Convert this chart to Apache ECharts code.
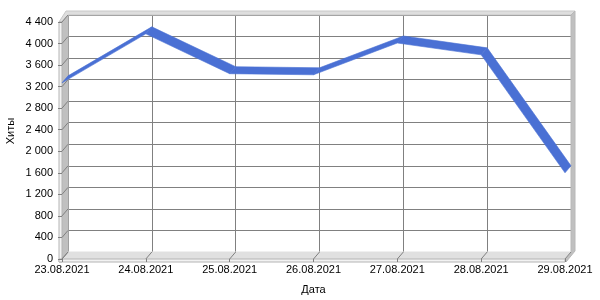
<!DOCTYPE html>
<html>
<head>
<meta charset="utf-8">
<script src="https://cdn.jsdelivr.net/npm/echarts@6/dist/echarts.min.js"></script>
<style>html,body{margin:0;padding:0;background:#fff}#c{width:600px;height:300px}</style>
</head>
<body>
<div id="c"></div>
<script>
const categories = ['23.08.2021','24.08.2021','25.08.2021','26.08.2021','27.08.2021','28.08.2021','29.08.2021'];
const hits = [3270, 4180, 3440, 3420, 4010, 3790, 1600];
const yMin = 0, yMax = 4400, yStep = 400;
const xName = 'Дата';
const yName = 'Хиты';

const DX = -6, DY = 7;
const FONT = 'Liberation Sans, Arial, sans-serif';
const segments = [];
for (let i = 0; i < hits.length - 1; i++) segments.push([i, hits[i], i + 1, hits[i + 1]]);

const chart = echarts.init(document.getElementById('c'), null, {renderer: 'canvas'});
const fmt = v => String(v).replace(/\B(?=(\d{3})+(?!\d))/g, ' ');

chart.setOption({
  animation: false,
  grid: [
    {left: 68, right: 29, top: 15, bottom: 48, containLabel: false, outerBoundsMode: 'none'},
    {left: 62, right: 35, top: 22, bottom: 41, containLabel: false, outerBoundsMode: 'none'}
  ],
  xAxis: [
    {gridIndex: 0, type: 'category', data: categories, boundaryGap: false,
     axisLine: {show: false}, axisTick: {show: false}, axisLabel: {show: false},
     splitLine: {show: true, lineStyle: {color: '#808080', width: 1}}},
    {gridIndex: 1, type: 'category', data: categories, boundaryGap: false, z: 6,
     axisLine: {show: false},
     axisTick: {show: true, length: 3, lineStyle: {color: '#808080'}},
     axisLabel: {color: '#000', fontSize: 11, fontFamily: FONT, margin: 5, interval: 0},
     splitLine: {show: false},
     name: xName, nameLocation: 'middle', nameGap: 25,
     nameTextStyle: {color: '#000', fontSize: 11, fontFamily: FONT}}
  ],
  yAxis: [
    {gridIndex: 0, type: 'value', min: yMin, max: yMax, interval: yStep,
     axisLine: {show: false}, axisTick: {show: false}, axisLabel: {show: false},
     splitLine: {show: true, lineStyle: {color: '#808080', width: 1}}},
    {gridIndex: 1, type: 'value', min: yMin, max: yMax, interval: yStep, z: 6,
     axisLine: {show: false},
     axisTick: {show: true, length: 4, lineStyle: {color: '#808080'}},
     axisLabel: {color: '#000', fontSize: 11, fontFamily: FONT, margin: 9, formatter: fmt},
     splitLine: {show: false}}
  ],
  series: [{
    type: 'custom',
    xAxisIndex: 0, yAxisIndex: 0,
    z: 10,
    clip: false,
    data: segments,
    renderItem: function (params, api) {
      const p0 = api.coord([api.value(0), api.value(1)]);
      const p1 = api.coord([api.value(2), api.value(3)]);
      return {
        type: 'polygon',
        shape: {points: [p0, p1, [p1[0] + DX, p1[1] + DY], [p0[0] + DX, p0[1] + DY]]},
        style: {fill: '#4a70d4', stroke: '#4a70d4', lineWidth: 0.6}
      };
    }
  }]
});

// 3D walls / floor decoration derived from the back grid
const pt = (x, y) => chart.convertToPixel({xAxisIndex: 0, yAxisIndex: 0}, [x, y]);
const bl = pt(0, yMin), tr = pt(categories.length - 1, yMax);
const L = bl[0], B = bl[1], R = tr[0], T = tr[1];
const els = [];
const wallGrey = '#c0c0c0';
let k = 0;
const add = (e) => { e.id = 'g' + (k++); e.silent = true; els.push(e); };
// top edge of back wall
add({type: 'polygon', z: 1, shape: {points: [[L + DX - 3, T + DY], [L - 2, T - 4], [R + 4, T - 4], [R, T], [L, T], [L + DX, T + DY]]},
  style: {fill: '#dedede', stroke: '#c8c8c8', lineWidth: 1}});
// right edge of back wall
add({type: 'polygon', z: 1, shape: {points: [[R, T], [R + 4, T - 4], [R + 4, B - 1], [R + DX + 1, B + DY + 3], [R + DX, B + DY], [R, B]]},
  style: {fill: wallGrey, stroke: '#b8b8b8', lineWidth: 1}});
// left wall
add({type: 'polygon', z: 1, shape: {points: [[L + DX, T + DY], [L, T], [L, B], [L + DX, B + DY]]},
  style: {fill: wallGrey, stroke: wallGrey, lineWidth: 1}});
// floor
add({type: 'polygon', z: 1, shape: {points: [[L, B], [R, B], [R + DX, B + DY], [L + DX, B + DY]]},
  style: {fill: '#e0e0e0', stroke: '#e0e0e0', lineWidth: 1}});
// left wall front face
add({type: 'polygon', z: 2, shape: {points: [[L + DX - 3, T + DY], [L + DX, T + DY], [L + DX, B + DY + 3], [L + DX - 3, B + DY + 3]]},
  style: {fill: '#f2f2f2', stroke: '#b4b4b4', lineWidth: 1}});
// floor front face
add({type: 'polygon', z: 2, shape: {points: [[L + DX - 3, B + DY], [R + DX, B + DY], [R + DX, B + DY + 3], [L + DX - 3, B + DY + 3]]},
  style: {fill: '#f2f2f2', stroke: '#b4b4b4', lineWidth: 1}});
// diagonal tick connectors
for (let v = yMin; v <= yMax; v += yStep) {
  const p = pt(0, v);
  add({type: 'line', z: 3, shape: {x1: p[0] + DX, y1: p[1] + DY, x2: p[0], y2: p[1]}, style: {stroke: '#808080', lineWidth: 1}});
}
for (let i = 0; i < categories.length; i++) {
  const p = pt(i, yMin);
  add({type: 'line', z: 3, shape: {x1: p[0] + DX, y1: p[1] + DY, x2: p[0], y2: p[1]}, style: {stroke: '#808080', lineWidth: 1}});
}
// y-axis title
add({type: 'text', z: 5, x: 11, y: 131, rotation: Math.PI / 2,
  style: {text: yName, fill: '#000', font: '11px ' + FONT, align: 'center', verticalAlign: 'middle'}});
chart.setOption({graphic: {elements: els}});
</script>
</body>
</html>
